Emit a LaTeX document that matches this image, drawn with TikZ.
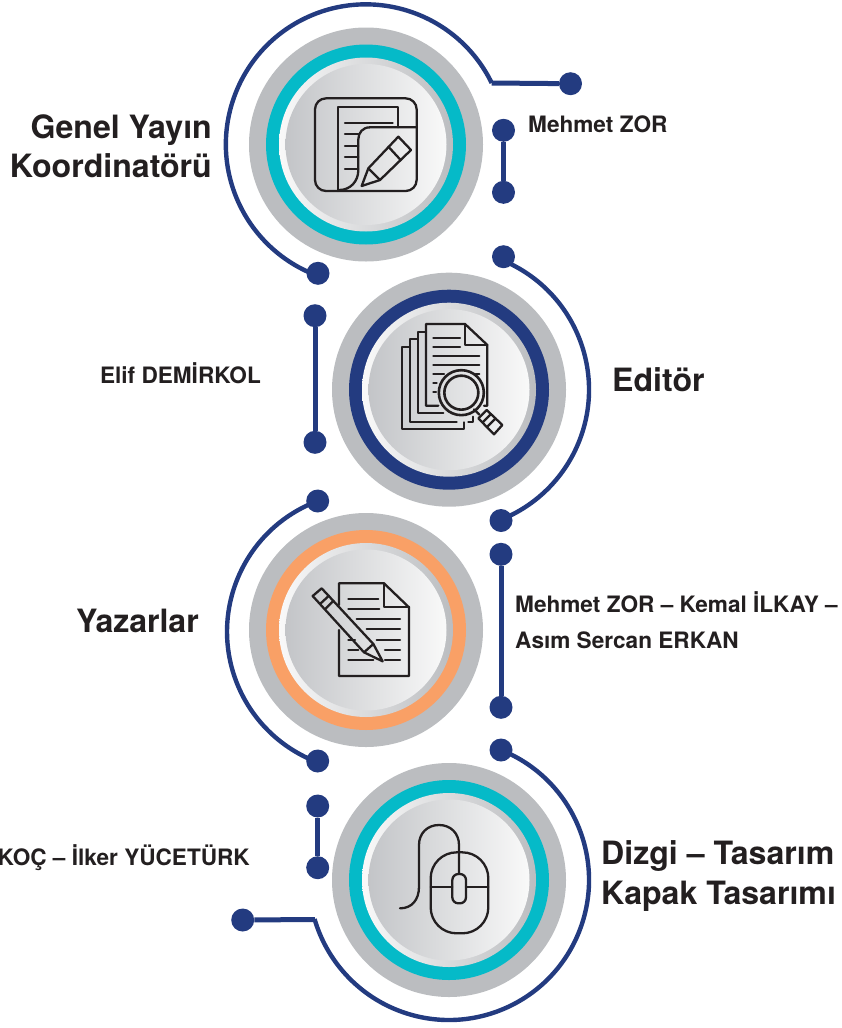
\documentclass[tikz,border=0pt]{standalone}
\usepackage{fontspec}
\setmainfont{TeX Gyre Heros}[BoldFont=* Bold]
\definecolor{navy}{HTML}{233B80}
\definecolor{teal2}{HTML}{05BAC8}
\definecolor{orange2}{HTML}{F9A066}
\definecolor{gray2}{HTML}{BBBDC0}
\definecolor{ink}{HTML}{231F20}
\definecolor{discl}{HTML}{C3C5C8}
\definecolor{discm}{HTML}{DDDFE1}
\definecolor{discr}{HTML}{F9F9F9}
\tikzset{
  conn/.style={draw=navy,line width=5pt},
  arcconn/.style={draw=navy,line width=4.4pt},
  dot/.style={circle,fill=navy,inner sep=0pt,minimum size=23pt},
  bigt/.style={font=\fontsize{32.1}{36}\selectfont\bfseries,text=ink,inner sep=0pt},
  smallt/.style={font=\fontsize{22.6}{26}\selectfont\bfseries,text=ink,inner sep=0pt},
  icon/.style={draw=ink,line width=2.3pt,line cap=round,line join=round},
  ring/.style={circle,draw=none,fill=gray2,minimum size=234pt,inner sep=0pt}
}
\newcommand{\disc}[3]{%
  \node[ring] (#1) at (#2) {};
  \fill[#3] (#1) circle (100pt);
  \shade[left color=discr,middle color=discm,right color=gray2] (#1) circle (87pt);
  \shade[left color=discl,middle color=discm,right color=discr] (#1) circle (80.5pt);
}
\begin{document}
\begin{tikzpicture}[x=1pt,y=1pt]
\useasboundingbox (0,0) rectangle (841,-1028);
\disc{c1}{366,-144.5}{teal2}
\disc{c2}{449,-389.7}{navy}
\disc{c3}{366,-630}{orange2}
\disc{c4}{449,-880}{teal2}

% connectors, dots
\node[dot] (a1) at (570.5,-83.7) {};
\node[dot] (a2) at (318,-273.3) {};
\coordinate (a0) at (491.7,-83);
\draw[arcconn] (a0) arc[start angle=26,end angle=249.6,radius=140];
\draw[conn] (a0) -- (a1);
\node[dot] (b1) at (503.5,-130.3) {};
\node[dot] (b2) at (503.5,-192.3) {};
\draw[conn] (b1) -- (b2);
\node[dot] (e1) at (503.5,-256.7) {};
\node[dot] (e2) at (501,-520.5) {};
\coordinate (e0) at (503.7,-260.8);
\draw[arcconn] (e0) arc[start angle=67,end angle=-68,radius=140];
\node[dot] (f1) at (315,-315.7) {};
\node[dot] (f2) at (315,-442.3) {};
\draw[conn] (f1) -- (f2);
\node[dot] (g1) at (317.7,-501) {};
\node[dot] (g2) at (317.7,-761) {};
\draw[arcconn] (g1.center) arc[start angle=110.5,end angle=249.8,radius=139.5];
\node[dot] (h1) at (501,-554.3) {};
\node[dot] (h2) at (501,-707.3) {};
\draw[conn] (h1) -- (h2);
\node[dot] (i1) at (501,-750) {};
\node[dot] (i2) at (242.7,-920) {};
\coordinate (i0) at (315,-919.5);
\draw[arcconn] (i1.center) arc[start angle=68.2,end angle=-163.8,radius=140];
\draw[conn] (i0) -- (i2);
\node[dot] (j1) at (317.7,-806) {};
\node[dot] (j2) at (317.7,-867.7) {};
\draw[conn] (j1) -- (j2);

% icon 1
\begin{scope}[shift={(230pt,0pt)},x=0.33333pt,y=-0.33333pt]
\draw[icon] (255,295) [rounded corners=11pt] rectangle (560,573);
\draw[icon] (325,573) -- (325,320) -- (505,320) -- (505,382);
\draw[icon] (560,382) -- (420,382) .. controls (398,382) and (385,398) .. (385,418) -- (385,510) .. controls (385,545) and (360,570) .. (328,570);
\draw[icon] (345,368) -- (488,368);
\foreach \yy in {402,437,472,508} \draw[icon] (345,\yy) -- (385,\yy);
\draw[icon] (395,558) -- (415,505) -- (505,410) -- (543,450) -- (450,540) -- cycle;
\draw[icon] (415,505) -- (450,540);
\draw[icon] (475,440) -- (512,480);
\end{scope}

% icon 2
\begin{scope}[shift={(300pt,-250pt)},x=0.33333pt,y=-0.33333pt]
\draw[icon] (415,467) -- (378,467) -- (378,222) -- (495,222) -- (562,285) -- (562,467) -- (552,467);
\draw[icon] (495,222) -- (495,285) -- (562,285);
\draw[icon] (378,245) -- (353,245) -- (353,490) -- (430,490);
\draw[icon] (353,268) -- (330,268) -- (330,515) -- (470,515);
\draw[icon] (518,500) -- (518,515) -- (505,515);
\draw[icon] (330,290) -- (306,290) -- (306,538) -- (493,538) -- (493,517);
\draw[icon] (400,263) -- (480,263);
\draw[icon] (400,290) -- (480,290);
\draw[icon] (400,317) -- (538,317);
\draw[icon] (400,344) -- (538,344);
\draw[icon] (400,371) -- (432,371);
\draw[icon] (527,371) -- (538,371);
\draw[icon] (400,398) -- (410,398);
\draw[icon] (400,425) -- (408,425);
\draw[icon,line width=2.6pt] (484,428) circle (22.5pt);
\draw[icon,line width=2.6pt] (484,428) circle (17pt);
\draw[icon] (522,478) -- (538,494);
\draw[icon] (535,505) -- (560,480) -- (607,525) -- (582,553) -- cycle;
\draw[icon] (548,517) -- (573,492);
\draw[icon] (562,530) -- (587,505);
\end{scope}

% icon 3
\begin{scope}[shift={(220pt,-490pt)},x=0.33333pt,y=-0.33333pt]
\draw[icon] (357,345) -- (357,280) -- (492,280) -- (567,352) -- (567,558) -- (357,558) -- (357,420);
\draw[icon] (492,280) -- (492,352) -- (567,352);
\draw[icon] (385,327) -- (475,327);
\draw[icon] (385,357) -- (478,357);
\draw[icon] (410,388) -- (540,388);
\draw[icon] (440,418) -- (540,418);
\draw[icon] (470,449) -- (540,449);
\draw[icon] (385,449) -- (405,449);
\draw[icon] (385,479) -- (415,479);
\draw[icon] (495,479) -- (540,479);
\draw[icon] (385,510) -- (460,510);
\draw[icon] (495,510) -- (540,510);
\draw[icon] (278,318) -- (305,295) -- (460,462) -- (488,514) -- (432,487) -- cycle;
\draw[icon] (432,487) -- (460,462);
\draw[icon] (300,342) -- (327,317);
\draw[icon] (315,358) -- (340,333);
\end{scope}

% icon 4
\begin{scope}[shift={(220pt,-740pt)},x=0.33333pt,y=-0.33333pt]
\draw[icon] (632,337) [rounded corners=26pt] rectangle (805,580);
\draw[icon] (632,440) -- (697,440);
\draw[icon] (738,440) -- (805,440);
\draw[icon] (697,402) [rounded corners=6pt] rectangle (738,490);
\draw[icon] (717,402) -- (717,315) .. controls (717,280) and (692,255) .. (657,255) .. controls (622,255) and (597,280) .. (597,315) -- (597,440) .. controls (597,480) and (575,505) .. (540,505);
\end{scope}

% texts
\node[bigt,anchor=base east] (t1) at (212,-138) {Genel Yayın};
\node[bigt,anchor=base east] (t2) at (212,-177) {Koordinatörü};
\node[smallt,anchor=base west] (t3) at (528,-132) {Mehmet ZOR};
\node[bigt,anchor=base west] (t4) at (612,-391) {Editör};
\node[smallt,anchor=base east] (t5) at (261,-383) {Elif DEMİRKOL};
\node[bigt,anchor=base east] (t6) at (199,-632) {Yazarlar};
\node[smallt,anchor=base west] (t7) at (515,-612) {Mehmet ZOR – Kemal İLKAY –};
\node[smallt,anchor=base west] (t8) at (515,-648) {Asım Sercan ERKAN};
\node[smallt,anchor=base east] (t9) at (250,-865) {KOÇ – İlker YÜCETÜRK};
\node[bigt,anchor=base west] (t10) at (601,-864) {Dizgi – Tasarım};
\node[bigt,anchor=base west] (t11) at (601,-904) {Kapak Tasarımı};
\end{tikzpicture}
\end{document}
